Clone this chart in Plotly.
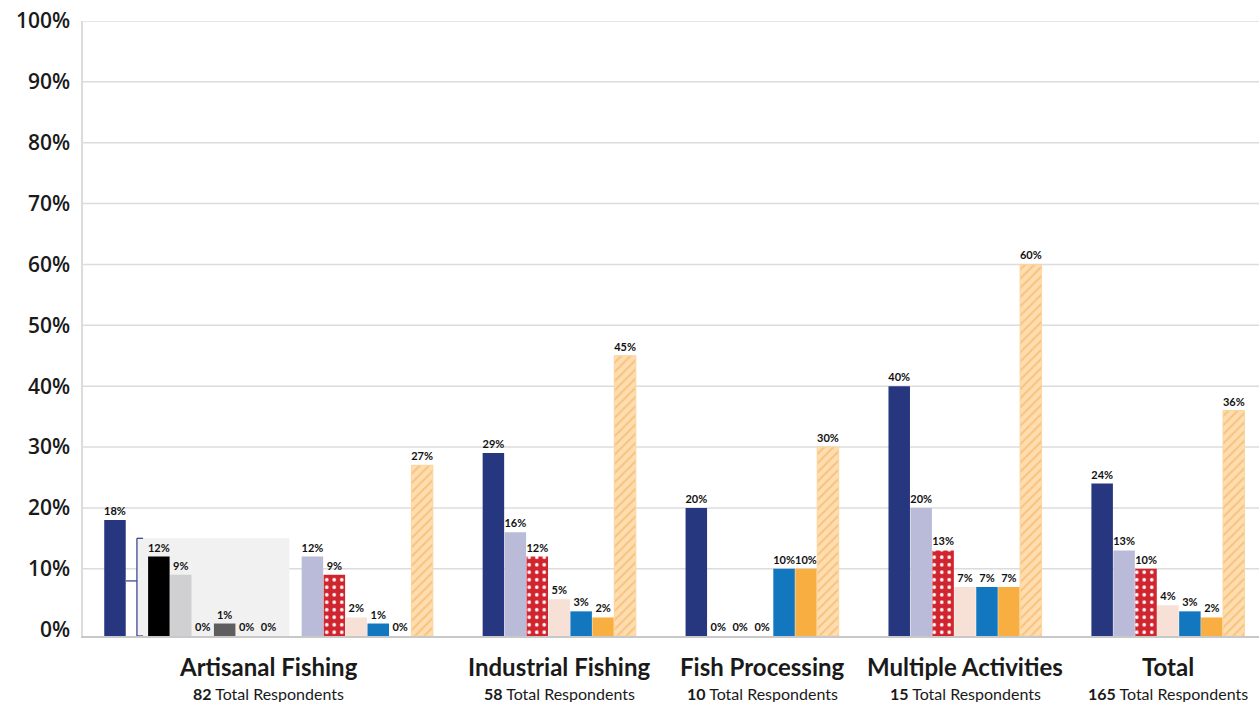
import plotly.graph_objects as go

# ---------------- data ----------------
groups = ["Artisanal Fishing", "Industrial Fishing", "Fish Processing",
          "Multiple Activities", "Total"]
respondents = [82, 58, 10, 15, 165]

navy = [18, 29, 20, 40, 24]
lavender = [12, 16, 0, 20, 13]
red_dotted = [9, 12, 0, 13, 10]
peach = [2, 5, 0, 7, 4]
blue = [1, 3, 10, 7, 3]
orange = [0, 2, 10, 7, 2]
orange_hatched = [27, 45, 30, 60, 36]

artisanal_breakdown = [12, 9, 0, 1, 0, 0]
artisanal_bracket_top = 15

y_ticks = list(range(0, 101, 10))

# ---------------- style ----------------
FONT = "Lato"
series = [
    (navy, "#27377F", None),
    (lavender, "#BABBD9", None),
    (red_dotted, "#D0252F", "dots"),
    (peach, "#F7E1D6", None),
    (blue, "#1277BE", None),
    (orange, "#F9AE42", None),
    (orange_hatched, "#FEDDB0", "hatch"),
]
breakdown_colors = ["#000000", "#D0D0D2", "#A6A6A6", "#5E5E5E", "#BFBFBF", "#808080"]

PAD = 1.05          # bars reach down to the axis line, slightly below 0
GAP = 2.25          # empty slots between groups
BAR_W = 0.98
sub_n = len(artisanal_breakdown)
group_slots = [len(series) + sub_n + 2] + [len(series)] * (len(groups) - 1)
starts = []
s = 0.0
for n in group_slots:
    starts.append(s)
    s += n + GAP


def slot(g, i):
    if g == 0:
        return 0 if i == 0 else i + sub_n + 2
    return starts[g] + i


def heights(vals):
    return [v + PAD if v > 0 else 0 for v in vals]


LABEL_FONT = dict(family=FONT, size=11, color="#111111", weight="bold")

fig = go.Figure()

for i, (vals, color, pat) in enumerate(series):
    marker = dict(color=color, line=dict(width=0))
    if pat == "dots":
        marker["pattern"] = dict(shape=".", fgcolor="white", bgcolor=color,
                                 size=7.5, solidity=0.18, fillmode="replace")
    elif pat == "hatch":
        marker["pattern"] = dict(shape="/", fgcolor="#F9C27C", bgcolor=color,
                                 size=6.5, solidity=0.3, fillmode="replace")
        marker["line"] = dict(width=1, color="#FCD49E")
    fig.add_trace(go.Bar(
        x=[slot(g, i) for g in range(len(groups))],
        y=heights(vals), base=-PAD, width=BAR_W,
        marker=marker,
        text=[f"{v}%" for v in vals], textposition="outside",
        constraintext="none", cliponaxis=False,
        textfont=LABEL_FONT,
        showlegend=False, hoverinfo="skip",
    ))

sub_x = [2 + j for j in range(sub_n)]
fig.add_trace(go.Bar(
    x=sub_x, y=heights(artisanal_breakdown), base=-PAD, width=BAR_W,
    marker=dict(color=breakdown_colors, line=dict(width=0)),
    text=[f"{v}%" for v in artisanal_breakdown], textposition="outside",
    constraintext="none", cliponaxis=False,
    textfont=LABEL_FONT,
    showlegend=False, hoverinfo="skip",
))

shapes = []
# grey panel behind the artisanal breakdown
shapes.append(dict(type="rect", xref="x", yref="y", x0=sub_x[0] - 1.0,
                   x1=sub_x[-1] + 0.95, y0=-PAD, y1=artisanal_bracket_top,
                   fillcolor="#F1F1F1", line=dict(width=0), layer="below"))
# gridlines
for v in y_ticks[1:]:
    shapes.append(dict(type="line", xref="paper", yref="y", x0=0, x1=1,
                       y0=v, y1=v, line=dict(color="#DCDCDC", width=1.5),
                       layer="below"))
# bracket
bx = sub_x[0] - 1.0
bc = "#3A4A94"
shapes += [
    dict(type="line", xref="x", yref="y", x0=bx, x1=bx, y0=-PAD,
         y1=artisanal_bracket_top, line=dict(color=bc, width=1.3)),
    dict(type="line", xref="x", yref="y", x0=bx, x1=bx + 0.28,
         y0=artisanal_bracket_top, y1=artisanal_bracket_top, line=dict(color=bc, width=1.3)),
    dict(type="line", xref="x", yref="y", x0=bx, x1=bx + 0.28,
         y0=-PAD, y1=-PAD, line=dict(color=bc, width=1.3)),
    dict(type="line", xref="x", yref="y", x0=0.5, x1=bx,
         y0=8, y1=8, line=dict(color=bc, width=1.3)),
]

annotations = []
for g, name in enumerate(groups):
    cx = (slot(g, 0) + slot(g, len(series) - 1)) / 2
    annotations.append(dict(x=cx, y=0, xref="x", yref="paper", text=name,
                            showarrow=False, yanchor="middle", yshift=-30,
                            font=dict(family=FONT, size=24, color="#1a1a1a",
                                      weight="bold")))
    annotations.append(dict(x=cx, y=0, xref="x", yref="paper",
                            text=f"<b>{respondents[g]}</b> Total Respondents",
                            showarrow=False, yanchor="middle", yshift=-57,
                            font=dict(family=FONT, size=16, color="#1a1a1a")))

x_last = slot(len(groups) - 1, len(series) - 1)
fig.update_layout(
    width=1259, height=702,
    margin=dict(l=83, r=0, t=21, b=66),
    plot_bgcolor="white", paper_bgcolor="white",
    barmode="overlay",
    shapes=shapes, annotations=annotations,
    xaxis=dict(range=[-1.458, x_last + 1.15], showgrid=False, zeroline=False,
               showticklabels=False, showline=True, linecolor="#C8C8C8",
               linewidth=2, ticks=""),
    yaxis=dict(range=[-PAD, 100], tickvals=y_ticks,
               ticktext=[f"{v}%" for v in y_ticks], showgrid=False,
               zeroline=False, showline=True, linecolor="#DCDCDC", linewidth=1.5,
               ticks="", ticklabelstandoff=7,
               tickfont=dict(family="Open Sans", size=21, color="#1a1a1a", weight=600)),
)

fig.write_html("out.html")
